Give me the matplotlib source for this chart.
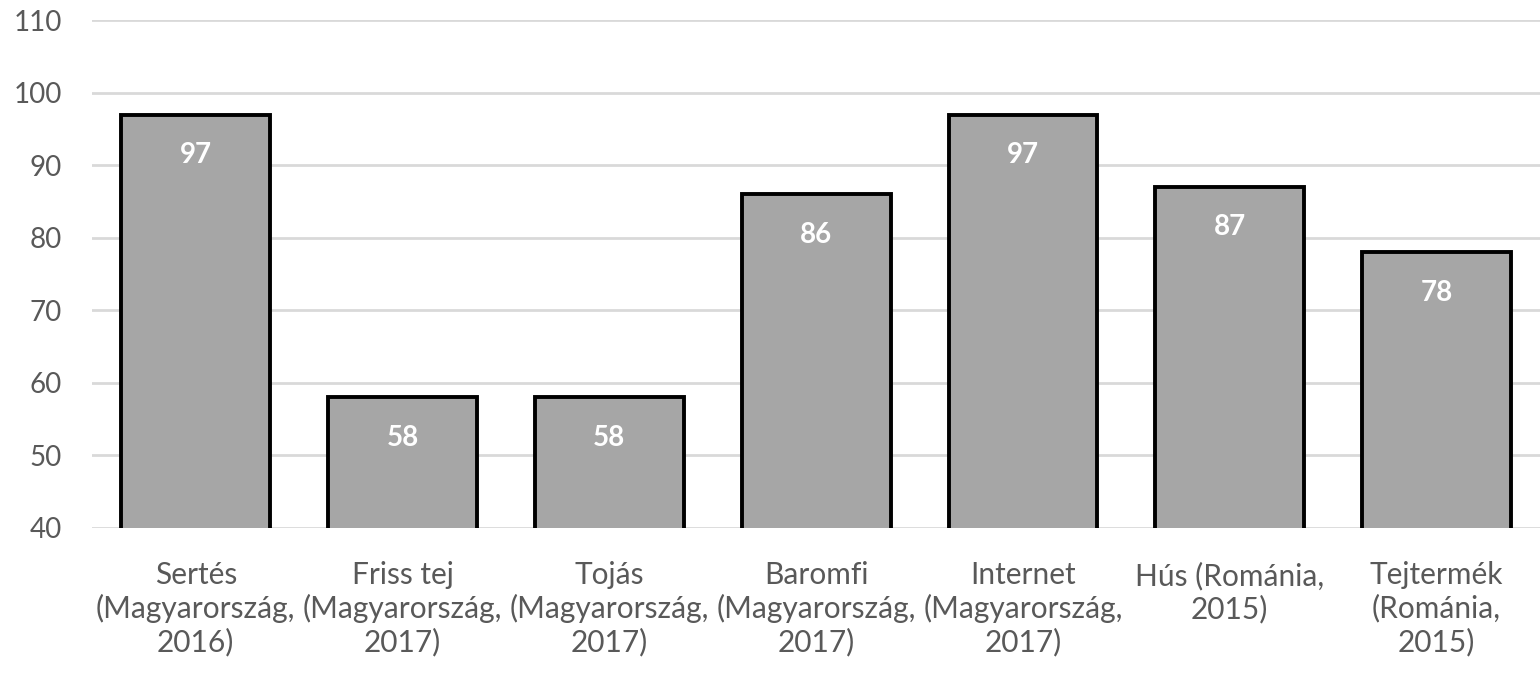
import matplotlib
matplotlib.use("Agg")
import matplotlib.pyplot as plt

categories = [
    "Sertés\n(Magyarország,\n2016)",
    "Friss tej\n(Magyarország,\n2017)",
    "Tojás\n(Magyarország,\n2017)",
    "Baromfi\n(Magyarország,\n2017)",
    "Internet\n(Magyarország,\n2017)",
    "Hús (Románia,\n2015)",
    "Tejtermék\n(Románia,\n2015)",
]
values = [97, 58, 58, 86, 97, 87, 78]
yticks = [40, 50, 60, 70, 80, 90, 100, 110]

plt.rcParams['font.family'] = ['Lato', 'DejaVu Sans']

fig = plt.figure(figsize=(15.4, 6.76), dpi=100)
ax = fig.add_axes([0.06, 0.219, 0.94, 0.751])

x = range(len(values))
ax.bar(x, values, width=0.72, color='#a6a6a6', edgecolor='black', linewidth=2.8, zorder=3)
for xi, v in zip(x, values):
    ax.annotate(str(v), (xi, v), xytext=(0, -29), textcoords='offset points',
                ha='center', va='center', color='white', fontsize=20, fontweight='bold', zorder=4)

ax.set_xlim(-0.5, len(values) - 0.5)
ax.set_ylim(40, 110)
ax.set_yticks(yticks)
ax.set_xticks(list(x))
ax.set_xticklabels(categories, linespacing=1.2, fontsize=21.5)
ax.tick_params(axis='both', length=0, labelcolor='#595959')
ax.tick_params(axis='y', labelsize=20, pad=22)
ax.tick_params(axis='x', pad=24)
ax.yaxis.grid(True, color='#d9d9d9', linewidth=2, zorder=0)
for s in ax.spines.values():
    s.set_visible(False)

fig.savefig('out.png', dpi=100)
